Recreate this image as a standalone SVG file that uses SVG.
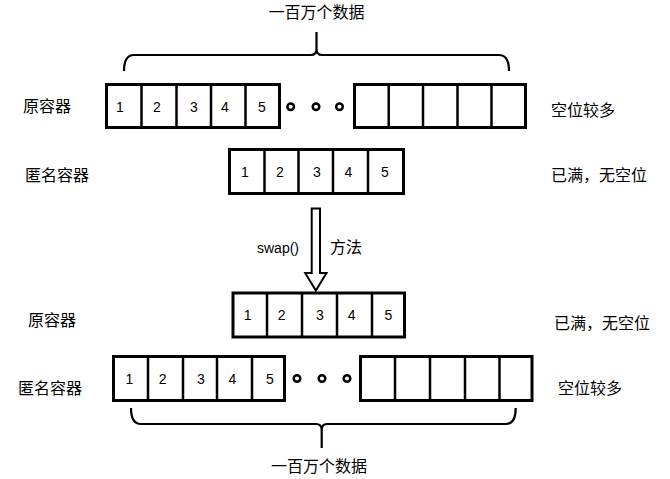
<svg xmlns="http://www.w3.org/2000/svg" width="670" height="479" viewBox="0 0 670 479">
<style>
.box{fill:#fff;stroke:#000;stroke-width:3}
.div{stroke:#000;stroke-width:2.5}
.dot{fill:#fff;stroke:#000;stroke-width:2.5}
.num{font-family:"Liberation Sans",Arial,sans-serif;font-size:14px;text-anchor:middle;fill:#000}
.lbl{font-family:"Noto Sans CJK SC","Noto Sans",sans-serif;font-size:16px;fill:#000}
.brace{fill:none;stroke:#000;stroke-width:2.2}
</style>
<rect width="670" height="479" fill="#fff"/>

<g id="top-label"><text class="lbl" x="316.5" y="18" text-anchor="middle">一百万个数据</text></g>
<g id="connectors">
<path class="brace" d="M124,71 Q124,55 134,55 L311,55 Q316.5,55 316.5,49 L316.5,32 M316.5,49 Q316.5,55 322,55 L499,55 Q509,55 509,71"/>
<path class="brace" d="M131,408 Q131,424 141,424 L316,424 Q321.7,424 321.7,430 L321.7,448 M321.7,430 Q321.7,424 327,424 L506,424 Q515.7,424 515.7,408"/>
<path id="swap-arrow" d="M311.7,208.5 L320,208.5 L320,273 L326.5,273 L315.85,290.5 L305.2,273 L311.7,273 Z" fill="#fff" stroke="#000" stroke-width="2"/>
</g>

<g id="orig-top">
<text class="lbl" x="23" y="112">原容器</text>
<rect class="box" x="106.5" y="84.5" width="173" height="43"/>
<line class="div" x1="141.5" y1="84.5" x2="141.5" y2="127.5"/>
<line class="div" x1="176.5" y1="84.5" x2="176.5" y2="127.5"/>
<line class="div" x1="211" y1="84.5" x2="211" y2="127.5"/>
<line class="div" x1="245.5" y1="84.5" x2="245.5" y2="127.5"/>
<text class="num" x="120" y="112">1</text>
<text class="num" x="157" y="112">2</text>
<text class="num" x="194" y="112">3</text>
<text class="num" x="225" y="112">4</text>
<text class="num" x="262" y="112">5</text>
<circle class="dot" cx="290.7" cy="106.7" r="3.3"/>
<circle class="dot" cx="316" cy="106.7" r="3.3"/>
<circle class="dot" cx="339.5" cy="106.7" r="3.3"/>
<rect class="box" x="354.5" y="84.5" width="171" height="43"/>
<line class="div" x1="388.7" y1="84.5" x2="388.7" y2="127.5"/>
<line class="div" x1="423" y1="84.5" x2="423" y2="127.5"/>
<line class="div" x1="457.5" y1="84.5" x2="457.5" y2="127.5"/>
<line class="div" x1="491.5" y1="84.5" x2="491.5" y2="127.5"/>
<text class="lbl" x="551" y="116">空位较多</text>
</g>

<g id="anon-top">
<text class="lbl" x="25" y="181">匿名容器</text>
<rect class="box" x="229.5" y="149.5" width="174" height="44"/>
<line class="div" x1="264.5" y1="149.5" x2="264.5" y2="193.5"/>
<line class="div" x1="298.5" y1="149.5" x2="298.5" y2="193.5"/>
<line class="div" x1="333" y1="149.5" x2="333" y2="193.5"/>
<line class="div" x1="368" y1="149.5" x2="368" y2="193.5"/>
<text class="num" x="245" y="177">1</text>
<text class="num" x="280" y="177">2</text>
<text class="num" x="317" y="177">3</text>
<text class="num" x="348.5" y="177">4</text>
<text class="num" x="385" y="177">5</text>
<text class="lbl" x="551" y="181">已满，无空位</text>
</g>

<g id="swap-label">
<text class="num" x="278" y="253" style="font-size:14px">swap()</text>
<text class="lbl" x="330" y="253">方法</text>
</g>

<g id="orig-bottom">
<text class="lbl" x="28" y="326">原容器</text>
<rect class="box" x="233" y="293" width="171.5" height="44"/>
<line class="div" x1="267" y1="293" x2="267" y2="337"/>
<line class="div" x1="302" y1="293" x2="302" y2="337"/>
<line class="div" x1="337" y1="293" x2="337" y2="337"/>
<line class="div" x1="372" y1="293" x2="372" y2="337"/>
<text class="num" x="247.7" y="320">1</text>
<text class="num" x="281.7" y="320">2</text>
<text class="num" x="320" y="320">3</text>
<text class="num" x="351.7" y="320">4</text>
<text class="num" x="388.3" y="320">5</text>
<text class="lbl" x="554" y="329">已满，无空位</text>
</g>

<g id="anon-bottom">
<text class="lbl" x="18" y="394">匿名容器</text>
<rect class="box" x="113.5" y="356.5" width="171" height="44"/>
<line class="div" x1="148" y1="356.5" x2="148" y2="400.5"/>
<line class="div" x1="183" y1="356.5" x2="183" y2="400.5"/>
<line class="div" x1="217" y1="356.5" x2="217" y2="400.5"/>
<line class="div" x1="252" y1="356.5" x2="252" y2="400.5"/>
<text class="num" x="129.3" y="384">1</text>
<text class="num" x="162.7" y="384">2</text>
<text class="num" x="201" y="384">3</text>
<text class="num" x="232.3" y="384">4</text>
<text class="num" x="270" y="384">5</text>
<circle class="dot" cx="297" cy="378.5" r="3.3"/>
<circle class="dot" cx="322" cy="378.5" r="3.3"/>
<circle class="dot" cx="347" cy="378.5" r="3.3"/>
<rect class="box" x="360.5" y="356.5" width="171.5" height="44"/>
<line class="div" x1="395" y1="356.5" x2="395" y2="400.5"/>
<line class="div" x1="430" y1="356.5" x2="430" y2="400.5"/>
<line class="div" x1="465" y1="356.5" x2="465" y2="400.5"/>
<line class="div" x1="499.5" y1="356.5" x2="499.5" y2="400.5"/>
<text class="lbl" x="558" y="394">空位较多</text>
</g>

<g id="bottom-label"><text class="lbl" x="319" y="472" text-anchor="middle">一百万个数据</text></g>
</svg>
